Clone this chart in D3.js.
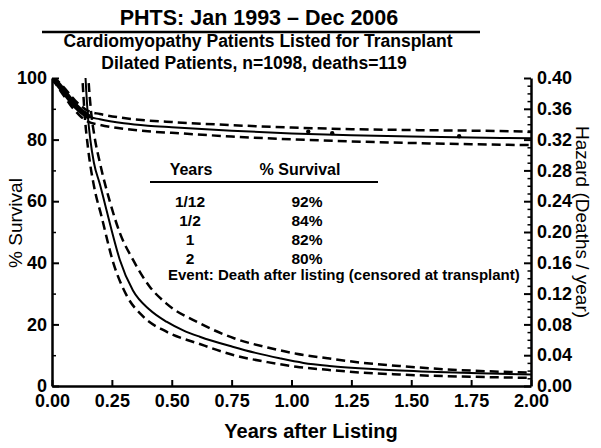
<!DOCTYPE html>
<html><head><meta charset="utf-8">
<script src="https://cdn.jsdelivr.net/npm/d3@7"></script>
<style>
html,body{margin:0;padding:0;background:#fff;}
svg{display:block;font-family:"Liberation Sans",Arial,Helvetica,sans-serif;}
</style></head>
<body>
<svg id="c" width="601" height="448"></svg>
<script>
// ---- data ----
const titleText = "PHTS: Jan 1993 \u2013 Dec 2006";
const subtitle1 = "Cardiomyopathy Patients Listed for Transplant";
const subtitle2 = "Dilated Patients, n=1098, deaths=119";

const xTicks = [0,0.25,0.5,0.75,1.0,1.25,1.5,1.75,2.0];
const survTicks = [0,20,40,60,80,100];
const survMinor = [10,30,50,70,90];
const hazTicks = [0,0.04,0.08,0.12,0.16,0.20,0.24,0.28,0.32,0.36,0.40];
const hazMinor = [0.01,0.02,0.03,0.05,0.06,0.07,0.09,0.10,0.11,0.13,0.14,0.15,0.17,0.18,0.19,0.21,0.22,0.23,0.25,0.26,0.27,0.29,0.30,0.31,0.33,0.34,0.35,0.37,0.38,0.39];

// survival (%) vs years
const survT     = [0, 0.02, 0.04, 0.06, 0.083, 0.1, 0.12, 0.15, 0.2, 0.3, 0.4, 0.5, 0.75, 1.0, 1.25, 1.5, 1.75, 2.0];
const survival  = [100, 98.5, 96.6, 94.6, 92.3, 90.8, 89.3, 87.6, 86.6, 85.3, 84.5, 84.0, 82.9, 82.0, 81.4, 81.0, 80.7, 80.4];
const survUpper = [100, 99.3, 97.8, 96.0, 93.9, 92.4, 91.0, 89.3, 88.3, 87.0, 86.2, 85.7, 84.7, 83.9, 83.4, 83.1, 82.9, 82.6];
const survLower = [100, 97.6, 95.3, 93.1, 90.6, 89.1, 87.5, 85.8, 84.8, 83.5, 82.7, 82.2, 81.0, 80.1, 79.4, 78.9, 78.5, 78.2];
const markT = [1.07, 1.17, 1.70];
const markS = [82.6, 82.1, 81.1];

// hazard (deaths/year) vs years
const hazT      = [0.135, 0.14, 0.15, 0.16, 0.175, 0.2, 0.228, 0.25, 0.283, 0.338, 0.408, 0.478, 0.55, 0.617, 0.754, 0.85, 0.95, 1.05, 1.158, 1.367, 1.575, 1.783, 2.0];
const hazard    = [0.43, 0.40, 0.35, 0.32, 0.29, 0.262, 0.228, 0.201, 0.164, 0.124, 0.099, 0.0835, 0.072, 0.064, 0.051, 0.043, 0.036, 0.030, 0.026, 0.0215, 0.0186, 0.0165, 0.0148];
const hazUpT    = [0.147, 0.152, 0.162, 0.177, 0.2, 0.242, 0.283, 0.338, 0.408, 0.478, 0.617, 0.76, 0.9, 1.02, 1.15, 1.30, 1.45, 1.575, 1.75, 2.0];
const hazUpper  = [0.43, 0.40, 0.36, 0.325, 0.29, 0.239, 0.199, 0.164, 0.129, 0.107, 0.0814, 0.062, 0.050, 0.042, 0.036, 0.030, 0.026, 0.023, 0.020, 0.0175];
const hazLoT    = [0.122, 0.127, 0.137, 0.15, 0.175, 0.207, 0.256, 0.311, 0.381, 0.478, 0.617, 0.76, 0.9, 1.02, 1.15, 1.30, 1.45, 1.575, 1.75, 2.0];
const hazLower  = [0.43, 0.40, 0.35, 0.31, 0.26, 0.22, 0.16, 0.118, 0.09, 0.0705, 0.0545, 0.040, 0.031, 0.025, 0.021, 0.0173, 0.015, 0.0134, 0.012, 0.0105];

const tableHead = ["Years", "% Survival"];
const tableYears = ["1/12", "1/2", "1", "2"];
const tableSurv = ["92%", "84%", "82%", "80%"];
const eventText = "Event: Death after listing (censored at transplant)";

// ---- drawing ----
const svg = d3.select("#c");
const L = 52, R = 531, T = 78, B = 386;
const x = d3.scaleLinear([0, 2], [L, R]);
const yS = d3.scaleLinear([0, 100], [B, T]);
const yH = d3.scaleLinear([0, 0.4], [B, T]);

// titles
svg.append("text").attr("x", 259).attr("y", 25).attr("text-anchor", "middle")
  .attr("font-size", 21.5).attr("font-weight", "bold").text(titleText);
svg.append("line").attr("x1", 42).attr("x2", 480).attr("y1", 32).attr("y2", 32)
  .attr("stroke", "#000").attr("stroke-width", 2.5);
svg.append("text").attr("x", 258).attr("y", 47).attr("text-anchor", "middle")
  .attr("font-size", 17.5).attr("font-weight", "bold").text(subtitle1);
svg.append("text").attr("x", 254).attr("y", 69).attr("text-anchor", "middle")
  .attr("font-size", 17.5).attr("font-weight", "bold").text(subtitle2);

// clip
svg.append("defs").append("clipPath").attr("id", "clip")
  .append("rect").attr("x", L).attr("y", T).attr("width", R - L).attr("height", B - T);
const plot = svg.append("g").attr("clip-path", "url(#clip)");

const mkLine = (xs, ys, yScale) => d3.line()
  .x((d, i) => x(xs[i])).y((d, i) => yScale(ys[i])).curve(d3.curveMonotoneX)(ys);

// hazard curves
plot.append("path").attr("d", mkLine(hazT, hazard, yH))
  .attr("fill", "none").attr("stroke", "#000").attr("stroke-width", 2);
[[hazUpT, hazUpper], [hazLoT, hazLower]].forEach(([t, v]) => {
  plot.append("path").attr("d", mkLine(t, v, yH))
    .attr("fill", "none").attr("stroke", "#000").attr("stroke-width", 2.5)
    .attr("stroke-dasharray", "9,5");
});

// survival curves
[survUpper, survLower].forEach(v => {
  plot.append("path").attr("d", mkLine(survT, v, yS))
    .attr("fill", "none").attr("stroke", "#000").attr("stroke-width", 2.5)
    .attr("stroke-dasharray", "9,5");
});
plot.append("path").attr("d", mkLine(survT, survival, yS))
  .attr("fill", "none").attr("stroke", "#000").attr("stroke-width", 2);
// dense event markers early on
const earlyIdx = survT.map((t, i) => i).filter(i => survT[i] <= 0.15);
plot.append("path").attr("d", d3.line().x(i => x(survT[i])).y(i => yS(survival[i]))(earlyIdx))
  .attr("fill", "none").attr("stroke", "#000").attr("stroke-width", 5.5).attr("stroke-linecap", "round");
plot.selectAll("circle.m").data(markT).join("circle").attr("class", "m")
  .attr("cx", d => x(d)).attr("cy", (d, i) => yS(markS[i])).attr("r", 2.2).attr("fill", "#000");

// axes
const axW = 2.5;
const styleAxis = (g, fs) => {
  g.select(".domain").attr("stroke-width", axW);
  g.selectAll(".tick line").attr("stroke-width", 2);
  g.selectAll("text").attr("font-size", fs).attr("font-weight", "bold")
    .attr("font-family", "'Liberation Sans',Arial,sans-serif").attr("fill", "#000");
};
const gL = svg.append("g").attr("transform", `translate(${L},0)`)
  .call(d3.axisLeft(yS).tickValues(survTicks).tickSize(-7).tickSizeOuter(0).tickPadding(5).tickFormat(d3.format("d")));
styleAxis(gL, 18);
svg.append("g").attr("transform", `translate(${L},0)`)
  .call(d3.axisLeft(yS).tickValues(survMinor).tickSize(-4).tickSizeOuter(0).tickFormat(""))
  .call(g => { g.select(".domain").remove(); g.selectAll("line").attr("stroke-width", 1.5); });

const gR = svg.append("g").attr("transform", `translate(${R},0)`)
  .call(d3.axisRight(yH).tickValues(hazTicks).tickSize(-7).tickSizeOuter(0).tickPadding(6).tickFormat(d3.format(".2f")));
styleAxis(gR, 18);
svg.append("g").attr("transform", `translate(${R},0)`)
  .call(d3.axisRight(yH).tickValues(hazMinor).tickSize(-3.5).tickSizeOuter(0).tickFormat(""))
  .call(g => { g.select(".domain").remove(); g.selectAll("line").attr("stroke-width", 1.5); });

const gB = svg.append("g").attr("transform", `translate(0,${B})`)
  .call(d3.axisBottom(x).tickValues(xTicks).tickSize(-6).tickSizeOuter(0).tickPadding(8).tickFormat(d3.format(".2f")));
styleAxis(gB, 18);

// axis titles
svg.append("text").attr("transform", "translate(22,223) rotate(-90)").attr("text-anchor", "middle")
  .attr("font-size", 19).text("% Survival");
svg.append("text").attr("transform", "translate(576,222) rotate(90)").attr("text-anchor", "middle")
  .attr("font-size", 19).text("Hazard (Deaths / year)");
svg.append("text").attr("x", 311).attr("y", 438).attr("text-anchor", "middle")
  .attr("font-size", 20).attr("font-weight", "bold").text("Years after Listing");

// table
const tb = svg.append("g").attr("font-weight", "bold");
tb.append("text").attr("x", 191).attr("y", 175).attr("text-anchor", "middle").attr("font-size", 16).text(tableHead[0]);
tb.append("text").attr("x", 300).attr("y", 175).attr("text-anchor", "middle").attr("font-size", 16).text(tableHead[1]);
tb.append("line").attr("x1", 150).attr("x2", 378).attr("y1", 182).attr("y2", 182).attr("stroke", "#000").attr("stroke-width", 2);
const rowY = d3.scalePoint().domain(d3.range(tableYears.length)).range([207, 264]);
tableYears.forEach((v, i) => {
  tb.append("text").attr("x", 190).attr("y", rowY(i)).attr("text-anchor", "middle").attr("font-size", 15.5).text(v);
  tb.append("text").attr("x", 307).attr("y", rowY(i)).attr("text-anchor", "middle").attr("font-size", 15.5).text(tableSurv[i]);
});
tb.append("text").attr("x", 168).attr("y", 280).attr("font-size", 15).text(eventText);
</script>
</body></html>
